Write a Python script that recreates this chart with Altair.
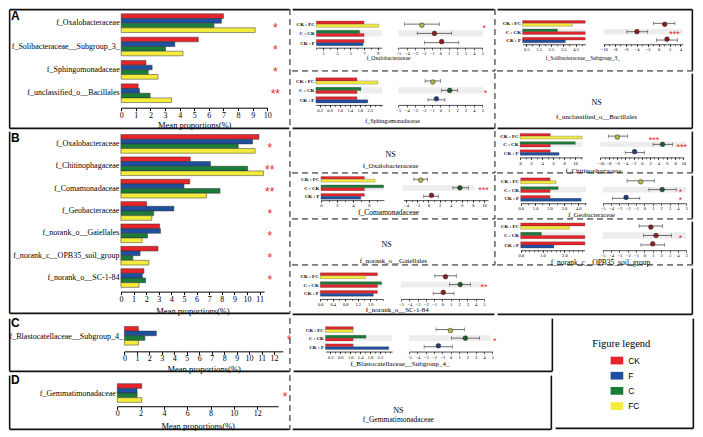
import altair as alt
import pandas as pd

# ---------------------------------------------------------------- data
GROUPS = ["CK", "F", "C", "FC"]
BAR_COLORS = ["#e8242b", "#1f4f9f", "#1b7b39", "#f4ec3c"]
DOT_COLORS = ["#8b1d20", "#1f3b7a", "#1d5b2e", "#b7b34e"]
COMPARISONS = ["CK : FC", "C : CK", "CK : F"]
PAIRS = [("CK", "FC"), ("C", "CK"), ("CK", "F")]

A_FAMILIES = ["f_Oxalobacteraceae", "f_Solibacteraceae__Subgroup_3_",
              "f_Sphingomonadaceae", "f_unclassified_o__Bacillales"]
A_CK = [7.0, 5.28, 1.69, 1.16]
A_F = [6.86, 3.67, 2.12, 1.25]
A_C = [6.35, 3.03, 1.85, 1.98]
A_FC = [9.17, 4.23, 2.52, 3.45]
A_SIG = ["*", "*", "*", "**"]

B_FAMILIES = ["f_Oxalobacteraceae", "f_Chitinophagaceae", "f_Comamonadaceae",
              "f_Geobacteraceae", "f_norank_o__Gaiellales",
              "f_norank_c__OPB35_soil_group", "f_norank_o__SC-1-84"]
B_CK = [10.95, 5.5, 5.46, 2.04, 3.07, 2.94, 1.83]
B_F = [10.44, 7.1, 5.0, 4.2, 3.14, 1.52, 1.7]
B_C = [9.3, 10.05, 7.86, 2.6, 2.11, 0.95, 1.96]
B_FC = [10.64, 11.3, 6.78, 2.45, 1.68, 2.22, 1.44]
B_SIG = ["*", "**", "**", "*", "*", "*", "*"]

C_FAMILIES = ["f_Blastocatellaceae__Subgroup_4_"]
C_CK = [1.12]
C_F = [2.56]
C_C = [1.64]
C_FC = [1.12]
C_SIG = ["*"]

D_FAMILIES = ["f_Gemmatimonadaceae"]
D_CK = [2.1]
D_F = [1.7]
D_C = [1.7]
D_FC = [2.1]
D_SIG = ["*"]

# post-hoc tests: difference in mean proportions with 95% CI (rows CK:FC, C:CK, CK:F)
A_OXA_DIFF = [-2.2, -0.7, 0.16]
A_OXA_LO = [-4.26, -2.75, -1.9]
A_OXA_HI = [-0.12, 1.36, 2.2]
A_OXA_DOT = ["FC", "CK", "CK"]
A_OXA_SIG = ["*", "", ""]

A_SOL_DIFF = [1.13, -3.93, 1.55]
A_SOL_LO = [-0.9, -5.77, -0.36]
A_SOL_HI = [2.98, -1.96, 3.45]
A_SOL_DOT = ["CK", "CK", "CK"]
A_SOL_SIG = ["", "***", ""]

A_SPH_DIFF = [-0.89, 1.12, -0.47]
A_SPH_LO = [-1.82, 0.12, -1.47]
A_SPH_HI = [0.04, 2.05, 0.54]
A_SPH_DOT = ["FC", "C", "F"]
A_SPH_SIG = ["", "*", ""]

B_CHI_DIFF = [-5.92, 4.98, -1.76]
B_CHI_LO = [-8.1, 2.7, -4.04]
B_CHI_HI = [-3.5, 7.4, 0.6]
B_CHI_DOT = ["FC", "C", "F"]
B_CHI_SIG = ["***", "***", ""]

B_COM_DIFF = [-1.37, 5.65, 0.56]
B_COM_LO = [-2.6, 4.4, -0.84]
B_COM_HI = [-0.14, 7.2, 1.8]
B_COM_DOT = ["FC", "C", "CK"]
B_COM_SIG = ["", "***", ""]

B_GEO_DIFF = [-0.45, 2.12, -2.2]
B_GEO_LO = [-2.08, 0.53, -3.83]
B_GEO_HI = [1.19, 3.79, -0.56]
B_GEO_DOT = ["FC", "C", "F"]
B_GEO_SIG = ["", "*", "*"]

B_OPB_DIFF = [0.76, 1.38, 0.99]
B_OPB_LO = [-0.64, -0.1, -0.42]
B_OPB_HI = [2.16, 3.25, 2.39]
B_OPB_DOT = ["CK", "CK", "CK"]
B_OPB_SIG = ["", "*", ""]

B_SC_DIFF = [0.37, 2.14, 0.1]
B_SC_LO = [-0.92, 0.84, -1.12]
B_SC_HI = [1.67, 3.39, 1.39]
B_SC_DOT = ["CK", "C", "CK"]
B_SC_SIG = ["", "**", ""]

C_BLA_DIFF = [-0.04, 1.76, -1.48]
C_BLA_LO = [-1.76, 0.08, -3.2]
C_BLA_HI = [1.64, 3.48, 0.2]
C_BLA_DOT = ["FC", "C", "F"]
C_BLA_SIG = ["", "*", ""]

# ---------------------------------------------------------------- layout helpers
SX = 686 / 703
SY = 420 / 434
SERIF = "Liberation Serif"
SANS = "Liberation Sans"
RED = "#e8242b"
GRAY = "#ededed"
ONE = pd.DataFrame({"k": [0]})

BAR_KEYS = []
for _i, _c in enumerate(COMPARISONS):
    BAR_KEYS += [_c + "|1", _c + "|2"]
    if _i < len(COMPARISONS) - 1:
        BAR_KEYS.append("gap%d" % _i)


def XB(a):
    return round(a * SX)


def YB(a):
    return round(a * SY)


def lx(v):
    return v * SX


def ly(v):
    return v * SY


def steps(a, b, s):
    out, v = [], a
    while v <= b + 1e-9:
        out.append(round(v, 4))
        v += s
    return out


def xscale(dom, rng):
    return alt.Scale(domain=list(dom), range=[lx(rng[0]), lx(rng[1])], nice=False, zero=False)


def yband(dom, rng, pin):
    return alt.Scale(domain=list(dom), range=[ly(rng[0]), ly(rng[1])],
                     paddingInner=pin, paddingOuter=0)


def label(x, y, s, size, font=SERIF, weight="normal", align="center", color="black"):
    return alt.Chart(ONE).mark_text(text=s, fontSize=size, font=font, fontWeight=weight,
                                    align=align, baseline="middle", color=color).encode(
        x=alt.value(x), y=alt.value(y))


def frame(w, h, edges):
    # lines are kept fully inside the cell so that the cell bounds do not grow
    out = []
    for side, style in edges:
        sw = 1.6 if style == "s" else 1.0
        kw = {"color": "#111111", "strokeWidth": sw}
        if style == "d":
            kw["strokeDash"] = [6, 4]
        ins = sw + 0.05
        if side == "top":
            enc = dict(x=alt.value(ins), x2=alt.value(w - ins), y=alt.value(ins))
        elif side == "bottom":
            enc = dict(x=alt.value(ins), x2=alt.value(w - ins), y=alt.value(h - ins))
        elif side == "left":
            enc = dict(x=alt.value(ins), y=alt.value(ins), y2=alt.value(h - ins))
        else:
            enc = dict(x=alt.value(w - ins), y=alt.value(ins), y2=alt.value(h - ins))
        out.append(alt.Chart(ONE).mark_rule(**kw).encode(**enc))
    return out


def left_cell(x0, x1, y0, y1, fams, vals, sig, lay, letter, edges):
    w, h = XB(x1) - XB(x0), YB(y1) - YB(y0)
    rows = [{"fam": f, "grp": g, "val": vals[g][i], "base": 0.0}
            for i, f in enumerate(fams) for g in GROUPS]
    df = pd.DataFrame(rows)
    off = ly(lay["axis"]) - h
    bars = alt.Chart(df).mark_bar(stroke="#333333", strokeWidth=0.5).encode(
        x=alt.X("val:Q", scale=xscale(lay["dom"], lay["rng"]),
                axis=alt.Axis(orient="bottom", offset=off, values=lay["ticks"],
                              title="Mean proportions(%)", titleY=ly(lay["title"] - lay["axis"]),
                              titleBaseline="middle", labelFontSize=8, titleFontSize=8.5,
                              tickSize=3, labelPadding=0.5, labelFlush=False, labelOverlap=False)),
        x2="base:Q",
        y=alt.Y("fam:N", scale=yband(fams, lay["rows"], lay["pin"]),
                axis=alt.Axis(orient="left", offset=-lx(lay["rng"][0]), title=None, domain=False,
                              ticks=False, labelPadding=2, labelFontSize=8, labelLimit=0)),
        yOffset=alt.YOffset("grp:N", scale=alt.Scale(domain=GROUPS, paddingInner=0, paddingOuter=0)),
        color=alt.Color("grp:N", scale=alt.Scale(domain=GROUPS, range=BAR_COLORS), legend=None),
    )
    sdf = pd.DataFrame({"fam": fams, "sig": sig, "sx": [lay["star"]] * len(fams)})
    stars = alt.Chart(sdf).mark_text(color=RED, fontSize=12, font=SANS, baseline="middle", dy=3).encode(
        x=alt.X("sx:Q", scale=xscale(lay["dom"], lay["rng"]), axis=None),
        y=alt.Y("fam:N", scale=yband(fams, lay["rows"], lay["pin"]), axis=None),
        text="sig:N",
    )
    let = label(lx(3), ly(lay.get("ly", 8)), letter, 12, font=SANS, weight="bold", align="left")
    return alt.layer(bars, stars, let, *frame(w, h, edges)).properties(width=w, height=h).resolve_scale(
        x="independent", y="independent")


def mini_cell(x0, x1, y0, y1, means, comp, lay, edges):
    w, h = XB(x1) - XB(x0), YB(y1) - YB(y0)
    diff, lo, hi, dot, sig = comp
    off = ly(lay["axis"]) - h
    bdom, cdom = lay["bdom"], lay["cdom"]

    def ys():
        return yband(COMPARISONS, lay["rows"], 1.0 / 3.0)

    rows = []
    for c, (g1, g2) in zip(COMPARISONS, PAIRS):
        rows.append({"key": c + "|1", "grp": g1, "val": means[g1], "base": bdom[0]})
        rows.append({"key": c + "|2", "grp": g2, "val": means[g2], "base": bdom[0]})
    bdf = pd.DataFrame(rows)

    gb = pd.DataFrame({"cmp": ["C : CK"], "a": [bdom[0]], "b": [bdom[1]]})
    gray_bar = alt.Chart(gb).mark_rect(color=GRAY).encode(
        x=alt.X("a:Q", scale=xscale(bdom, lay["brng"]),
                axis=alt.Axis(orient="bottom", offset=off, values=lay["bminor"], labels=False,
                              domain=False, tickSize=1.5, tickWidth=0.6, title=None)),
        x2="b:Q",
        y=alt.Y("cmp:N", scale=ys(),
                axis=alt.Axis(orient="left", offset=-lx(lay["brng"][0]), title=None, domain=False,
                              ticks=False, labelFontSize=5, labelFontWeight="bold", labelPadding=2)),
    )
    bax = dict(orient="bottom", offset=off, values=lay["bticks"], labelFontSize=4.5, tickSize=2.2,
               tickWidth=0.6, domainWidth=0.7, labelPadding=0.5, title=None, labelFlush=False,
               labelOverlap=False)
    if "bfmt" in lay:
        bax["format"] = lay["bfmt"]
    bars = alt.Chart(bdf).mark_bar(stroke="#444444", strokeWidth=0.3).encode(
        x=alt.X("val:Q", scale=xscale(bdom, lay["brng"]), axis=alt.Axis(**bax)),
        x2="base:Q",
        y=alt.Y("key:N", scale=yband(BAR_KEYS, lay["rows"], 0), axis=None),
        color=alt.Color("grp:N", scale=alt.Scale(domain=GROUPS, range=BAR_COLORS), legend=None),
    )

    gc = pd.DataFrame({"cmp": ["C : CK"], "a": [lay["gray"][0]], "b": [lay["gray"][1]]})
    if lay.get("cminor"):
        gax = alt.Axis(orient="bottom", offset=off, values=lay["cminor"], labels=False,
                       domain=False, tickSize=1.5, tickWidth=0.6, title=None)
    else:
        gax = None
    gray_ci = alt.Chart(gc).mark_rect(color=GRAY).encode(
        x=alt.X("a:Q", scale=xscale(cdom, lay["crng"]), axis=gax),
        x2="b:Q",
        y=alt.Y("cmp:N", scale=ys(), axis=None),
    )
    sx = lay["sx"] if isinstance(lay["sx"], list) else [lay["sx"]] * 3
    cdf = pd.DataFrame({"cmp": COMPARISONS, "diff": diff, "lo": lo, "hi": hi, "dot": dot,
                        "sig": sig, "sx": sx})
    err = alt.Chart(cdf).mark_rule(color="#333333", strokeWidth=0.7).encode(
        x=alt.X("lo:Q", scale=xscale(cdom, lay["crng"]), axis=None),
        x2="hi:Q",
        y=alt.Y("cmp:N", scale=ys(), axis=None),
    )
    caps_df = pd.DataFrame({"cmp": COMPARISONS * 2, "v": list(lo) + list(hi)})
    caps = alt.Chart(caps_df).mark_tick(color="#333333", thickness=0.7, size=ly(4)).encode(
        x=alt.X("v:Q", scale=xscale(cdom, lay["crng"]), axis=None),
        y=alt.Y("cmp:N", scale=ys(), axis=None),
    )
    pts = alt.Chart(cdf).mark_circle(size=22, stroke="#222222", strokeWidth=0.5, opacity=1).encode(
        x=alt.X("diff:Q", scale=xscale(cdom, lay["crng"]),
                axis=alt.Axis(orient="bottom", offset=off, values=lay["cticks"], labelFontSize=4.5,
                              tickSize=2.2, tickWidth=0.6, domainWidth=0.7, labelPadding=0.5,
                              title=None, labelFlush=False, labelOverlap=False)),
        y=alt.Y("cmp:N", scale=ys(), axis=None),
        fill=alt.Fill("dot:N", scale=alt.Scale(domain=GROUPS, range=DOT_COLORS), legend=None),
    )
    sdf = cdf[cdf["sig"] != ""]
    stars = alt.Chart(sdf).mark_text(color=RED, fontSize=9, font=SANS, baseline="middle", dy=2.5).encode(
        x=alt.X("sx:Q", scale=xscale(cdom, lay["crng"]), axis=None),
        y=alt.Y("cmp:N", scale=ys(), axis=None),
        text="sig:N",
    )
    tx, ty = lay["title"]
    ttl = label(lx(tx), ly(ty), lay["name"], lay["tsize"])
    return alt.layer(gray_bar, bars, gray_ci, err, caps, pts, stars, ttl,
                     *frame(w, h, edges)).properties(width=w, height=h).resolve_scale(
        x="independent", y="independent")


def ns_cell(x0, x1, y0, y1, name, ns_xy, t_xy, tsize, edges):
    w, h = XB(x1) - XB(x0), YB(y1) - YB(y0)
    layers = []
    if name:
        layers.append(label(lx(ns_xy[0]), ly(ns_xy[1]), "NS", 8))
        layers.append(label(lx(t_xy[0]), ly(t_xy[1]), name, tsize))
    layers += frame(w, h, edges)
    return alt.layer(*layers).properties(width=w, height=h)


def legend_cell(x0, x1, y0, y1, edges):
    w, h = XB(x1) - XB(x0), YB(y1) - YB(y0)
    ldf = pd.DataFrame({"grp": GROUPS})
    ys = yband(GROUPS, (41, 96), 0.49)
    sw = alt.Chart(ldf).mark_rect().encode(
        x=alt.value(lx(58)), x2=alt.value(lx(71)),
        y=alt.Y("grp:N", scale=ys, axis=None),
        color=alt.Color("grp:N", scale=alt.Scale(domain=GROUPS, range=BAR_COLORS), legend=None),
    )
    lab = alt.Chart(ldf).mark_text(align="left", baseline="middle", font=SANS, fontSize=8.5).encode(
        x=alt.value(lx(76)),
        y=alt.Y("grp:N", scale=ys, axis=None),
        text="grp:N",
    )
    ttl = label(lx(69), ly(28), "Figure legend", 10.5)
    return alt.layer(sw, lab, ttl, *frame(w, h, edges)).properties(width=w, height=h)


def means_of(ck, f, c, fc, i):
    return {"CK": ck[i], "F": f[i], "C": c[i], "FC": fc[i]}


def hc(*c):
    return alt.hconcat(*c, spacing=0)


def vc(*c):
    return alt.vconcat(*c, spacing=0)


# ---------------------------------------------------------------- panel A
leftA = left_cell(0, 290, 0, 126, A_FAMILIES, {"CK": A_CK, "F": A_F, "C": A_C, "FC": A_FC}, A_SIG,
                  dict(dom=(0, 10), rng=(116, 265.7), rows=(6, 97.7), pin=0.2, ticks=list(range(0, 11)),
                       axis=103, title=120.6, star=10.55),
                  "A", [("top", "s"), ("left", "s"), ("bottom", "s"), ("right", "d")])

oxaA = mini_cell(290, 500, 0, 66, means_of(A_CK, A_F, A_C, A_FC, 0),
                 (A_OXA_DIFF, A_OXA_LO, A_OXA_HI, A_OXA_DOT, A_OXA_SIG),
                 dict(rows=(13.5, 39), bdom=(0, 9.6), brng=(26, 93), bticks=[1, 3, 5, 7, 9],
                      bminor=steps(0, 9, 1), cdom=(-5, 5), crng=(110, 196), cticks=steps(-5, 5, 1),
                      gray=(-5, 5.1), axis=41, sx=5.25, title=(100, 52), tsize=5.5,
                      name="f_Oxalobacteraceae"),
                 [("top", "s"), ("right", "d"), ("bottom", "d")])

solA = mini_cell(500, 703, 0, 66, means_of(A_CK, A_F, A_C, A_FC, 1),
                 (A_SOL_DIFF, A_SOL_LO, A_SOL_HI, A_SOL_DOT, A_SOL_SIG),
                 dict(rows=(13, 36), bdom=(0.2, 5.3), brng=(27.2, 91.7),
                      bticks=[0.5, 1.5, 2.5, 3.5, 4.5], bfmt=".1f", bminor=steps(0.5, 5.0, 0.5),
                      cdom=(-10, 4.4), crng=(110.3, 191.3), cticks=steps(-10, 4, 2),
                      cminor=steps(-10, 4, 1), gray=(-10, 4.4), axis=37.5, sx=2.9,
                      title=(89, 52), tsize=5.5, name="f_Solibacteraceae__Subgroup_3_"),
                 [("top", "s"), ("right", "s"), ("bottom", "d")])

sphA = mini_cell(290, 500, 66, 126, means_of(A_CK, A_F, A_C, A_FC, 2),
                 (A_SPH_DIFF, A_SPH_LO, A_SPH_HI, A_SPH_DOT, A_SPH_SIG),
                 dict(rows=(6, 32), bdom=(0.05, 2.7), brng=(25.5, 93.6),
                      bticks=[0.2, 0.6, 1.0, 1.4, 1.8, 2.2], bfmt=".1f", bminor=steps(0.2, 2.6, 0.2),
                      cdom=(-5, 5), crng=(110, 196), cticks=steps(-5, 5, 1), gray=(-5, 5.1),
                      axis=34, sx=5.4, title=(104, 50.7), tsize=6, name="f_Sphingomonadaceae"),
                 [("right", "d"), ("bottom", "s")])

bacA = ns_cell(500, 703, 66, 126, "f_unclassified_o__Bacillales", (103, 32), (103, 47), 7,
               [("right", "s"), ("bottom", "s")])

rowA = hc(leftA, vc(hc(oxaA, solA), hc(sphA, bacA)))

# ---------------------------------------------------------------- panel B
leftB = left_cell(0, 290, 126, 317, B_FAMILIES, {"CK": B_CK, "F": B_F, "C": B_C, "FC": B_FC}, B_SIG,
                  dict(dom=(0, 11.35), rng=(115.7, 262.4), rows=(4.7, 162.7), pin=0.16,
                       ticks=list(range(0, 12)), axis=167, title=186.3, star=11.8),
                  "B", [("left", "s"), ("bottom", "s"), ("right", "d")])

oxaB = ns_cell(290, 500, 126, 172, "f_Oxalobacteraceae", (102, 26.3), (102, 37.3), 7,
               [("right", "d"), ("bottom", "d")])

chiB = mini_cell(500, 703, 126, 172, means_of(B_CK, B_F, B_C, B_FC, 1),
                 (B_CHI_DIFF, B_CHI_LO, B_CHI_HI, B_CHI_DOT, B_CHI_SIG),
                 dict(rows=(3.5, 26.2), bdom=(0, 11.3), brng=(24.7, 88.3),
                      bticks=steps(0, 10, 2), bminor=steps(0, 11, 1), cdom=(-10, 10), crng=(107, 192),
                      cticks=steps(-10, 10, 2), cminor=steps(-10, 10, 1), gray=(-10, 10.5), axis=28.3,
                      sx=[2.94, 9.6, 0], title=(100, 42), tsize=7, name="f_Chitinophagaceae"),
                 [("right", "s"), ("bottom", "d")])

comB = mini_cell(290, 500, 172, 219, means_of(B_CK, B_F, B_C, B_FC, 2),
                 (B_COM_DIFF, B_COM_LO, B_COM_HI, B_COM_DOT, B_COM_SIG),
                 dict(rows=(2.5, 26), bdom=(0, 7.9), brng=(30.7, 95.2), bticks=steps(0, 6, 2),
                      bminor=steps(0, 7, 1), cdom=(-4.5, 10.7), crng=(115.1, 201.9),
                      cticks=steps(-4, 10, 2), cminor=steps(-4, 10, 1), gray=(-4.6, 8.2), axis=27,
                      sx=9.9, title=(100, 40.3), tsize=7.5, name="f_Comamonadaceae"),
                 [("right", "d"), ("bottom", "d")])

geoB = mini_cell(500, 703, 172, 219, means_of(B_CK, B_F, B_C, B_FC, 3),
                 (B_GEO_DIFF, B_GEO_LO, B_GEO_HI, B_GEO_DOT, B_GEO_SIG),
                 dict(rows=(4, 28.2), bdom=(0, 4.54), brng=(25.3, 92.3),
                      bticks=steps(0, 4, 1), bfmt=".1f", bminor=steps(0, 4.5, 0.5), cdom=(-5, 5),
                      crng=(109.3, 195), cticks=steps(-5, 5, 1), gray=(-5, 5), axis=30.2, sx=4.3,
                      title=(98, 42.2), tsize=6.5, name="f_Geobacteraceae"),
                 [("right", "s"), ("bottom", "d")])

gaiB = ns_cell(290, 500, 219, 267, "f_norank_o__Gaiellales", (98, 26), (105, 42), 7,
               [("right", "d"), ("bottom", "d")])

opbB = mini_cell(500, 703, 219, 267, means_of(B_CK, B_F, B_C, B_FC, 5),
                 (B_OPB_DIFF, B_OPB_LO, B_OPB_HI, B_OPB_DOT, B_OPB_SIG),
                 dict(rows=(3, 29), bdom=(0, 2.92), brng=(25.3, 90.7), bticks=[0, 1, 2],
                      bfmt=".1f", bminor=steps(0, 2.8, 0.2), cdom=(-5, 5), crng=(109.3, 195),
                      cticks=steps(-5, 5, 1), gray=(-5, 5), axis=31.2, sx=4.3, title=(107, 44),
                      tsize=7.5, name="f_norank_c__OPB35_soil_group"),
                 [("right", "s"), ("bottom", "d")])

scB = mini_cell(290, 500, 267, 317, means_of(B_CK, B_F, B_C, B_FC, 6),
                (B_SC_DIFF, B_SC_LO, B_SC_HI, B_SC_DOT, B_SC_SIG),
                dict(rows=(6, 30.3), bdom=(0, 2.0), brng=(30, 94),
                     bticks=[0, 0.4, 0.8, 1.2, 1.6], bfmt=".1f", bminor=steps(0, 2.0, 0.2),
                     cdom=(-5, 5), crng=(112.7, 197.7), cticks=steps(-5, 5, 1), gray=(-5, 5),
                     axis=33, sx=5.0, title=(109, 44), tsize=7, name="f_norank_o__SC-1-84"),
                [("bottom", "s")])

emptyB = ns_cell(500, 703, 267, 317, "", None, None, 7, [("right", "s"), ("bottom", "s")])

rowB = hc(leftB, vc(hc(oxaB, chiB), hc(comB, geoB), hc(gaiB, opbB), hc(scB, emptyB)))

# ---------------------------------------------------------------- panels C, D and legend
leftC = left_cell(0, 290, 317, 375, C_FAMILIES, {"CK": C_CK, "F": C_F, "C": C_C, "FC": C_FC}, C_SIG,
                  dict(dom=(0, 12.7), rng=(119.3, 281.6), rows=(9.7, 30.7), pin=0,
                       ticks=list(range(0, 13)), axis=35.5, title=53.3, star=13.2, ly=6),
                  "C", [("left", "s"), ("bottom", "s"), ("right", "d")])

blaC = mini_cell(290, 559, 317, 375, means_of(C_CK, C_F, C_C, C_FC, 0),
                 (C_BLA_DIFF, C_BLA_LO, C_BLA_HI, C_BLA_DOT, C_BLA_SIG),
                 dict(rows=(10, 33.7), bdom=(0, 2.7), brng=(34.3, 102.7),
                      bticks=[0.2, 0.6, 1.0, 1.4, 1.8, 2.2], bfmt=".1f", bminor=steps(0.2, 2.6, 0.2),
                      cdom=(-5, 5), crng=(120, 205.3), cticks=steps(-5, 5, 1), gray=(-5, 4.8),
                      axis=35.7, sx=5.3, title=(110.7, 49), tsize=7,
                      name="f_Blastocatellaceae__Subgroup_4_"),
                 [("bottom", "s"), ("right", "s")])

leftD = left_cell(0, 290, 375, 434, D_FAMILIES, {"CK": D_CK, "F": D_F, "C": D_C, "FC": D_FC}, D_SIG,
                  dict(dom=(0, 13.8), rng=(112, 276.8), rows=(10, 30.3), pin=0,
                       ticks=steps(0, 12, 2), axis=33.3, title=53, star=14.4, ly=6.5),
                  "D", [("left", "s"), ("bottom", "s"), ("right", "d")])

gemD = ns_cell(290, 559, 375, 434, "f_Gemmatimonadaceae", (110, 38), (110, 48), 7.5,
               [("bottom", "s"), ("right", "s")])

legend = legend_cell(559, 703, 317, 434, [("right", "s"), ("bottom", "s")])

rowCD = hc(vc(hc(leftC, blaC), hc(leftD, gemD)), legend)

chart = vc(rowA, rowB, rowCD).properties(
    padding={"left": 0, "top": 0, "right": 0, "bottom": 0}
).configure_view(stroke=None).configure_axis(
    labelFont=SERIF, titleFont=SERIF, labelColor="black", titleColor="black",
    domainColor="black", tickColor="black", titleFontWeight="normal", grid=False, minExtent=0
)

chart.save("out.html", embed_options={"renderer": "svg", "actions": False})
